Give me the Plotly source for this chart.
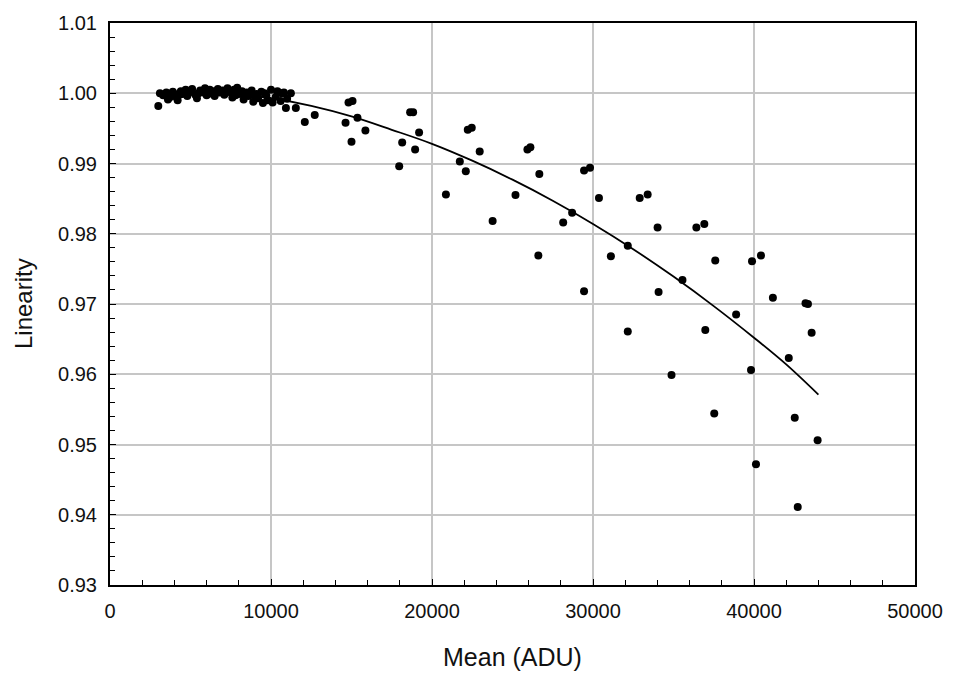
import plotly.graph_objects as go

# Dense low-signal cluster (Mean ADU, Linearity)
cluster_x = [3000, 3100, 3300, 3500, 3600, 3800, 3900, 4100, 4200, 4400, 4500, 4700,
             4800, 5000, 5100, 5300, 5400, 5600, 5800, 5900, 6100, 6200, 6400, 6500,
             6700, 6800, 7000, 7100, 7300, 7400, 7600, 7700, 7900, 8000, 8200, 8300,
             8500, 8600, 8800, 8900, 9100, 9200, 9400, 9500, 9700, 9800, 10000, 10100,
             10300, 10400, 10600, 10680, 10800, 10926, 11000, 11235, 11543,
             3700, 4300, 4900, 5500, 6000, 6600, 7200, 7800, 8400, 9000, 9600]
cluster_v = [0.9982, 1.0000, 0.9997, 1.0001, 0.9991, 0.9999, 1.0002, 0.9995, 0.9990, 1.0003,
             0.9999, 1.0005, 0.9996, 1.0002, 1.0006, 0.9998, 0.9993, 1.0004, 1.0001, 1.0007,
             0.9999, 1.0005, 1.0003, 0.9996, 1.0006, 1.0001, 1.0004, 0.9998, 1.0007, 1.0002,
             0.9994, 1.0005, 1.0008, 0.9999, 1.0003, 0.9991, 1.0001, 0.9996, 1.0004, 0.9988,
             0.9999, 0.9993, 1.0002, 0.9986, 0.9997, 0.9990, 1.0005, 0.9987, 0.9995, 1.0003,
             0.9989, 1.0000, 1.0001, 0.9979, 0.9992, 1.0000, 0.9979,
             0.9994, 0.9998, 1.0001, 1.0000, 0.9997, 1.0002, 1.0001, 0.9997, 0.9999, 0.9996, 1.0000]

# Scattered points at higher signal
scatter_x = [12099, 12716, 14630, 14815, 15062, 15370, 15864, 15000, 18148, 17963,
             18642, 18827, 19198, 18951, 20864, 22222, 22469, 22963, 21728, 22099,
             23765, 25926, 26111, 26667, 25185, 26605, 28704, 28148, 29444, 29815,
             30370, 31111, 32901, 33395, 34012, 36420, 36914, 32160, 37593, 39877,
             40432, 35556, 34074, 41173, 43200, 43350, 38889, 32160, 36975, 43580,
             42160, 39815, 34877, 37531, 42531, 43951, 40123, 42716, 29444]
scatter_v = [0.9959, 0.9969, 0.9958, 0.9987, 0.9989, 0.9965, 0.9947, 0.9931, 0.9930, 0.9896,
             0.9973, 0.9973, 0.9944, 0.9920, 0.9856, 0.9948, 0.9951, 0.9917, 0.9903, 0.9889,
             0.9818, 0.9920, 0.9923, 0.9885, 0.9855, 0.9769, 0.9830, 0.9816, 0.9890, 0.9894,
             0.9851, 0.9768, 0.9851, 0.9856, 0.9809, 0.9809, 0.9814, 0.9783, 0.9762, 0.9761,
             0.9769, 0.9734, 0.9717, 0.9709, 0.9701, 0.9700, 0.9685, 0.9661, 0.9663, 0.9659,
             0.9623, 0.9606, 0.9599, 0.9544, 0.9538, 0.9506, 0.9472, 0.9411, 0.9718]

# Fitted curve
fit_x = [3000, 5000, 7500, 10000, 12500, 15000, 17500, 20000, 22500, 25000,
         27500, 30000, 32500, 35000, 37500, 40000, 42000, 44000]
fit_v = [1.0002, 1.0003, 1.0000, 0.9993, 0.9982, 0.9967, 0.9948, 0.9928, 0.9904, 0.9877,
         0.9847, 0.9814, 0.9778, 0.9739, 0.9697, 0.9652, 0.9614, 0.9571]

x_ticks = [0, 10000, 20000, 30000, 40000, 50000]
y_ticks = [0.93, 0.94, 0.95, 0.96, 0.97, 0.98, 0.99, 1.00, 1.01]

FONT = "Liberation Sans, Arial, sans-serif"

fig = go.Figure()
fig.add_trace(go.Scatter(x=fit_x, y=fit_v, mode="lines", line=dict(color="black", width=1.8, shape="spline"),
                         showlegend=False))
fig.add_trace(go.Scatter(x=cluster_x + scatter_x, y=cluster_v + scatter_v, mode="markers",
                         marker=dict(color="black", size=8), showlegend=False))

axis_common = dict(showline=True, linecolor="black", linewidth=2, mirror=True,
                   showgrid=True, gridcolor="#c6c6c6", gridwidth=2,
                   ticks="inside", ticklen=6, tickcolor="black", tickwidth=1,
                   tickfont=dict(family=FONT, size=20, color="#111"), zeroline=False)

fig.update_xaxes(range=[0, 50000], tickvals=x_ticks, ticktext=[str(v) for v in x_ticks],
                 minor=dict(dtick=2000, ticks="inside", ticklen=5, tickcolor="black", showgrid=False),
                 ticklabelstandoff=7, **axis_common)
fig.update_yaxes(range=[0.93, 1.01], tickvals=y_ticks, ticktext=[f"{v:.2f}" for v in y_ticks],
                 minor=dict(dtick=0.002, ticks="inside", ticklen=5, tickcolor="black", showgrid=False),
                 ticklabelstandoff=7, **axis_common)

fig.add_annotation(text="Mean (ADU)", xref="paper", yref="paper", x=0.5, y=0, yshift=-72,
                   showarrow=False, font=dict(family=FONT, size=25, color="#111"), yanchor="middle")
fig.add_annotation(text="Linearity", xref="paper", yref="paper", x=0, y=0.5, xshift=-87,
                   showarrow=False, textangle=-90, font=dict(family=FONT, size=24, color="#111"),
                   xanchor="center")

fig.update_layout(width=955, height=673, margin=dict(l=110, r=35, t=17, b=88),
                  plot_bgcolor="white", paper_bgcolor="white")

fig.write_html("out.html")
